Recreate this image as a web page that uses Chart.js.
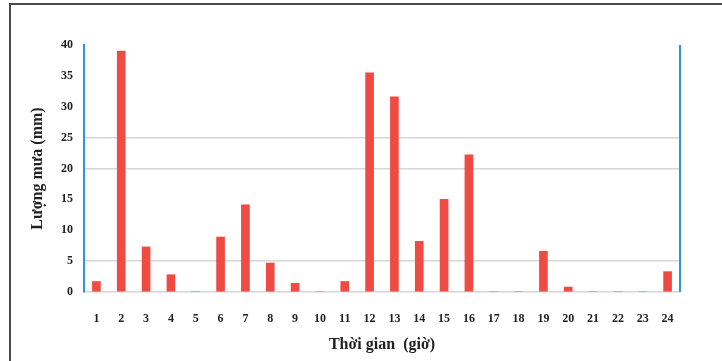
<!DOCTYPE html>
<html>
<head>
<meta charset="utf-8">
<script src="https://cdn.jsdelivr.net/npm/chart.js@4.4.1/dist/chart.umd.min.js"></script>
<style>
  html, body { margin: 0; padding: 0; background: #fff; }
  #wrap { position: relative; width: 722px; height: 361px; overflow: hidden; }
  #frame {
    position: absolute; left: 9px; top: 3px; width: 800px; height: 400px;
    border-left: 2px solid #4a4a4a; border-top: 2px solid #4a4a4a;
    pointer-events: none;
  }
  canvas { position: absolute; left: 0; top: 0; }
</style>
</head>
<body>
<div id="wrap">
  <canvas id="rainChart" width="722" height="361"></canvas>
  <div id="frame"></div>
</div>
<script>
// hourly rainfall
const hours = ['1', '2', '3', '4', '5', '6', '7', '8', '9', '10', '11', '12',
  '13', '14', '15', '16', '17', '18', '19', '20', '21', '22', '23', '24'];
const rainfall = [1.7, 39.0, 7.3, 2.8, 0, 8.9, 14.1, 4.7, 1.4, 0, 1.7, 35.5,
  31.6, 8.2, 15.0, 22.2, 0, 0, 6.6, 0.8, 0, 0, 0, 3.3];
const yTicks = [0, 5, 10, 15, 20, 25, 30, 35, 40];
const shownGrid = [5, 20, 25];

const serif = 'Liberation Serif';
const ctx = document.getElementById('rainChart').getContext('2d');

// right-hand frame line of the plot area
const rightEdge = {
  id: 'rightEdge',
  afterDatasetsDraw(chart) {
    const { ctx, chartArea } = chart;
    ctx.save();
    ctx.strokeStyle = '#2e95d8';
    ctx.lineWidth = 2;
    ctx.beginPath();
    ctx.moveTo(chartArea.right, chartArea.top);
    ctx.lineTo(chartArea.right, chartArea.bottom);
    ctx.stroke();
    ctx.restore();
  }
};

new Chart(ctx, {
  type: 'bar',
  data: {
    labels: hours,
    datasets: [{
      data: rainfall,
      backgroundColor: '#ef4b43',
      barThickness: 8
    }]
  },
  options: {
    responsive: false,
    animation: false,
    layout: { padding: { left: 28, right: 42, top: 45, bottom: 0 } },
    plugins: { legend: { display: false }, tooltip: { enabled: false } },
    scales: {
      x: {
        z: 1,
        afterFit: scale => { scale.height = 69; },
        grid: { display: false },
        border: { display: true, color: '#d6d6d6', width: 1.5 },
        ticks: {
          padding: 12,
          color: '#222',
          font: { family: serif, size: 12, weight: 'bold' }
        },
        title: {
          display: true,
          text: 'Thời gian  (giờ)',
          color: '#222',
          padding: { top: 0, bottom: 7 },
          font: { family: serif, size: 16, weight: 'bold' }
        }
      },
      y: {
        min: 0,
        max: 40,
        afterFit: scale => { scale.width = 56; },
        afterBuildTicks: scale => { scale.ticks = yTicks.map(v => ({ value: v })); },
        grid: {
          drawTicks: false,
          lineWidth: 1.5,
          color: c => shownGrid.includes(c.tick.value) ? '#d6d6d6' : 'rgba(0,0,0,0)'
        },
        border: { color: '#2e95d8', width: 2 },
        ticks: {
          padding: 11,
          color: '#222',
          font: { family: serif, size: 12, weight: 'bold' }
        },
        title: {
          display: true,
          text: 'Lượng mưa (mm)',
          color: '#222',
          padding: { top: 0, bottom: 0 },
          font: { family: serif, size: 16, weight: 'bold' }
        }
      }
    }
  },
  plugins: [rightEdge]
});
</script>
</body>
</html>
